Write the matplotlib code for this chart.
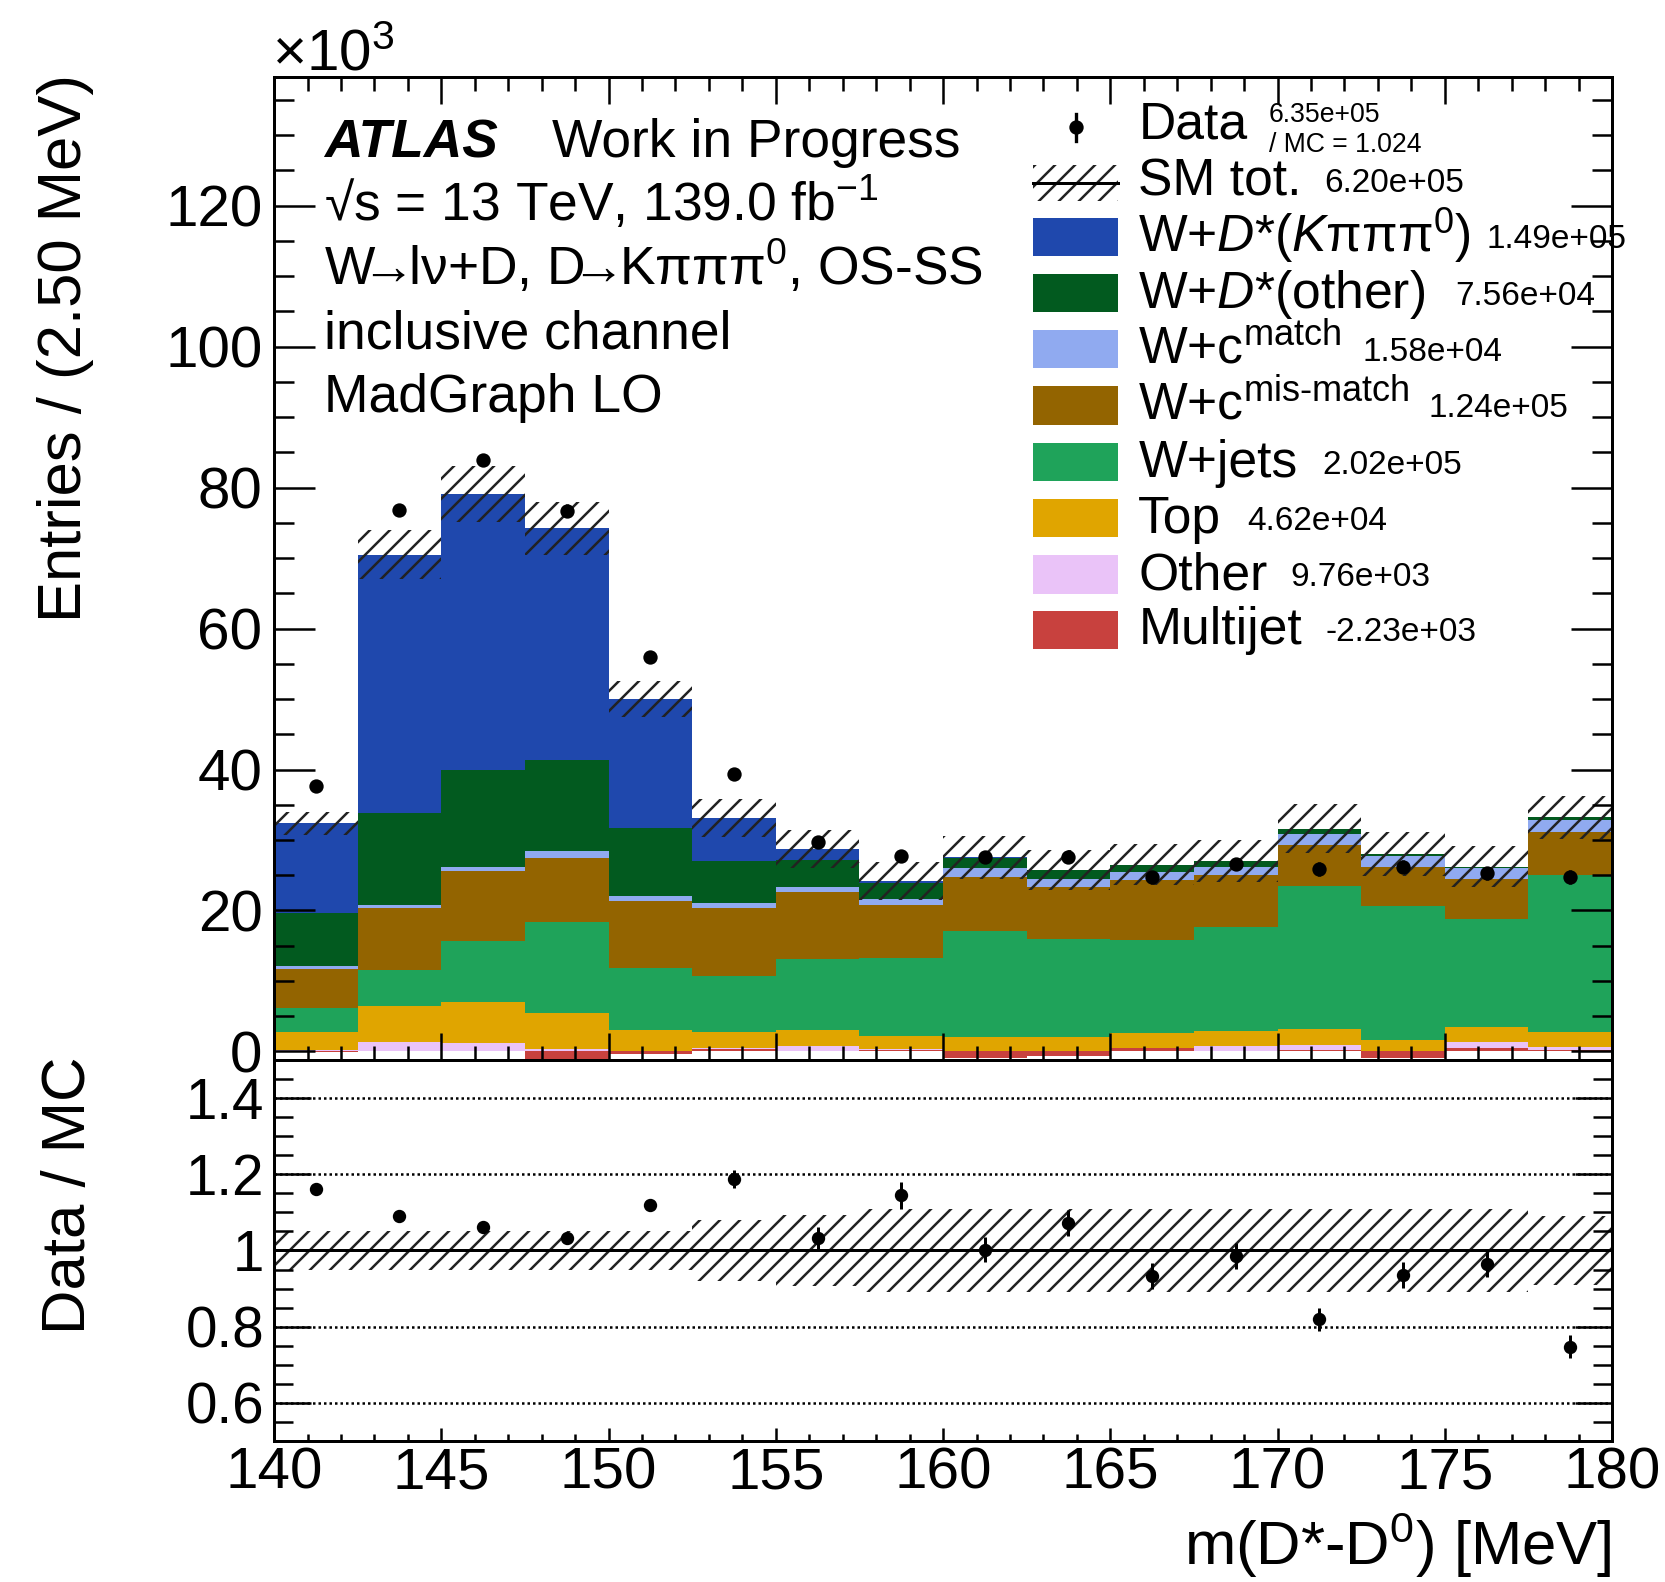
import numpy as np
import matplotlib
matplotlib.use("Agg")
import matplotlib.pyplot as plt
from matplotlib.patches import Rectangle
from matplotlib.lines import Line2D
from matplotlib.ticker import MultipleLocator, FuncFormatter

plt.rcParams['font.family'] = ['Liberation Sans', 'DejaVu Sans']
plt.rcParams['mathtext.fontset'] = 'custom'
plt.rcParams['mathtext.rm'] = 'Liberation Sans'
plt.rcParams['mathtext.it'] = 'Liberation Sans:italic'
plt.rcParams['mathtext.bf'] = 'Liberation Sans:bold'
plt.rcParams['hatch.linewidth'] = 1.5

# binning: m(D*-D0) in MeV, 2.5 MeV bins
edges = np.arange(140, 180.1, 2.5)
centers = 0.5 * (edges[1:] + edges[:-1])

# stacked backgrounds, entries / 10^3 (bottom to top)
multijet    = [-0.1, 0.0, 0.0, -1.0, -0.4, 0.35, 0.0, 0.25, -0.9, -0.6, 0.45, 0.1, 0.2, -0.9, 0.5, 0.25]
other       = [0.34, 1.4, 1.2, 1.4, 0.4, 0.1, 0.8, 0.05, 0.9, 0.6, 0.05, 0.7, 0.75, 0.9, 0.9, 0.45]
top         = [2.51, 5.1, 5.8, 5.0, 3.1, 2.35, 2.3, 1.9, 2.1, 2.0, 2.1, 2.1, 2.25, 1.6, 2.05, 2.05]
wjets       = [3.4, 5.1, 8.7, 13.0, 8.7, 7.9, 10.0, 11.0, 15.0, 13.9, 13.2, 14.7, 20.3, 19.1, 15.35, 22.25]
wc_mismatch = [5.55, 8.7, 9.9, 9.1, 9.6, 9.6, 9.55, 7.6, 7.7, 7.5, 8.5, 7.4, 5.8, 5.5, 5.65, 6.1]
wc_match    = [0.36, 0.5, 0.6, 0.9, 0.7, 0.8, 0.65, 0.9, 1.2, 1.1, 1.2, 1.2, 1.5, 1.5, 1.55, 1.8]
wdstar_oth  = [7.54, 13.1, 13.7, 13.0, 9.6, 5.9, 3.9, 2.2, 1.5, 1.2, 1.0, 0.8, 0.8, 0.3, 0.2, 0.3]
wdstar_k3pi = [12.8, 36.6, 39.2, 32.8, 18.3, 6.1, 1.55, 0.3, 0.05, 0.05, 0.0, 0.0, 0.0, 0.0, 0.0, 0.0]

# data and uncertainties (entries / 10^3)
data     = [37.65, 76.8, 83.9, 76.7, 56.0, 39.3, 29.7, 27.7, 27.6, 27.6, 24.7, 26.6, 25.9, 26.2, 25.3, 24.8]
data_err = [0.4, 0.7, 0.8, 0.9, 0.6, 0.75, 0.85, 0.85, 0.9, 0.9, 0.9, 0.9, 0.95, 0.93, 0.92, 1.0]
mc_unc   = [0.05, 0.05, 0.05, 0.05, 0.05, 0.08, 0.093, 0.11, 0.11, 0.11, 0.11, 0.11, 0.11, 0.11, 0.11, 0.09]

stack = [multijet, other, top, wjets, wc_mismatch, wc_match, wdstar_oth, wdstar_k3pi]
colors = ["#c8413e", "#eac3f8", "#e0a500", "#1fa35a", "#936400", "#90aaf0", "#025a1f", "#1f48ad"]
labels = [r"W+$\mathit{D}$*($\mathit{K}\mathrm{\pi\pi\pi}^{0}$)", r"W+$\mathit{D}$*(other)",
          r"W+c$^{\mathrm{match}}$", r"W+c$^{\mathrm{mis}\text{-}\mathrm{match}}$",
          "W+jets", "Top", "Other", "Multijet"]
yields = ["1.49e+05", "7.56e+04", "1.58e+04", "1.24e+05", "2.02e+05", "4.62e+04", "9.76e+03", "-2.23e+03"]

data = np.array(data)
data_err = np.array(data_err)
mc_unc = np.array(mc_unc)
cum = np.cumsum(np.array(stack), axis=0)
total = cum[-1]

fig = plt.figure(figsize=(1665 / 120, 1582 / 120), dpi=120)
ax = fig.add_axes([0.1646, 0.3300, 0.8036, 0.6216])
ax2 = fig.add_axes([0.1646, 0.0891, 0.8036, 0.2409])


def P(x, y):
    # position in the 1568x1490 view -> figure fraction
    return x / 1568, 1 - y / 1490


# ROOT-like stack: cumulative sums drawn from the top one down, each from 0
for vals, col in reversed(list(zip(cum, colors))):
    ax.stairs(vals, edges, baseline=0, fill=True, color=col, lw=0)

ax.stairs(total * (1 + mc_unc), edges, baseline=total * (1 - mc_unc), fill=True,
          facecolor="none", edgecolor="#222222", hatch="//", lw=0)
ax.errorbar(centers, data, yerr=data_err, fmt="o", color="k", ms=7.6, elinewidth=1.8, capsize=0)

ax.set_xlim(140, 180)
ax.set_ylim(-1.2, 138.3)
ax.xaxis.set_major_locator(MultipleLocator(5))
ax.xaxis.set_minor_locator(MultipleLocator(1))
ax.yaxis.set_major_locator(MultipleLocator(20))
ax.yaxis.set_minor_locator(MultipleLocator(5))
ax.yaxis.set_major_formatter(FuncFormatter(lambda v, p: "%g" % v))
ax.tick_params(which="both", direction="in", top=True, right=True, width=1.5, labelbottom=False)
ax.tick_params(axis="y", which="major", length=24.6, labelsize=35, pad=7)
ax.tick_params(axis="y", which="minor", length=12)
ax.tick_params(axis="x", which="major", length=16)
ax.tick_params(axis="x", which="minor", length=8.4)

# ratio panel
ratio = data / total
ratio_err = data_err / total
ax2.stairs(1 + mc_unc, edges, baseline=1 - mc_unc, fill=True,
           facecolor="none", edgecolor="#222222", hatch="//", lw=0)
for v in [0.6, 0.8, 1.2, 1.4]:
    ax2.axhline(v, color="k", ls=(0, (1, 1.2)), lw=1.5)
ax2.axhline(1, color="k", lw=1.8)
ax2.errorbar(centers, ratio, yerr=ratio_err, fmt="o", color="k", ms=7, elinewidth=1.8, capsize=0)

ax2.set_xlim(140, 180)
ax2.set_ylim(0.5, 1.5)
ax2.xaxis.set_major_locator(MultipleLocator(5))
ax2.xaxis.set_minor_locator(MultipleLocator(1))
ax2.yaxis.set_minor_locator(MultipleLocator(0.05))
ax2.set_yticks([0.6, 0.8, 1.0, 1.2, 1.4])
ax2.yaxis.set_major_formatter(FuncFormatter(lambda v, p: "%g" % round(v, 2)))
ax2.tick_params(which="both", direction="in", right=True, top=False, width=1.5)
ax2.tick_params(axis="y", which="major", length=22, labelsize=34, pad=6)
ax2.tick_params(axis="y", which="minor", length=11.4)
ax2.tick_params(axis="x", which="major", length=7.8, labelsize=35, pad=3)
ax2.tick_params(axis="x", which="minor", length=4.2)

for a in (ax, ax2):
    for s in a.spines.values():
        s.set_linewidth(1.8)

# axis titles
fig.text(*P(62, 70), "Entries / (2.50 MeV)", rotation=90, ha="center", va="top", fontsize=37)
fig.text(*P(65, 995), "Data / MC", rotation=90, ha="center", va="top", fontsize=37)
fig.text(*P(1518, 1455), r"m(D*-D$^{0}$) [MeV]", ha="right", va="center", fontsize=37)
fig.text(*P(256, 66), r"×10$^{3}$", ha="left", va="baseline", fontsize=35)

# header text
fig.text(*P(305, 148), "ATLAS", fontsize=32, fontweight="bold", fontstyle="italic", va="baseline")
fig.text(*P(520, 148), "Work in Progress", fontsize=32, va="baseline")
fig.text(*P(305, 208), r"√s = 13 TeV, 139.0 fb$^{-1}$", fontsize=32, va="baseline")
fig.text(*P(305, 268),
         r"W$\!\!\!{\rightarrow}\!\!$l$\mathrm{\nu}$+D, D$\!\!\!{\rightarrow}\!\!$K$\mathrm{\pi\pi\pi}^{0}$, OS-SS",
         fontsize=32, va="baseline")
fig.text(*P(305, 328), "inclusive channel", fontsize=32, va="baseline")
fig.text(*P(305, 388), "MadGraph LO", fontsize=32, va="baseline")

# legend
x0, y0 = P(1013, 120)
fig.add_artist(Line2D([x0], [y0], marker="o", ms=7.6, color="k", transform=fig.transFigure))
xa, ya = P(1013, 107)
xb, yb = P(1013, 133)
fig.add_artist(Line2D([xa, xb], [ya, yb], lw=2, color="k", transform=fig.transFigure))
fig.text(*P(1072, 130), "Data", fontsize=31, va="baseline")
fig.text(*P(1195, 108), "6.35e+05", fontsize=16, va="center")
fig.text(*P(1195, 137), "/ MC = 1.024", fontsize=16, va="center")

bx, by = P(973, 189)
bw, bh = 80 / 1568, 34 / 1490
fig.add_artist(Rectangle((bx, by), bw, bh, facecolor="none", edgecolor="#222222", hatch="//", lw=0,
                         transform=fig.transFigure))
la, lb = P(973, 172)
fig.add_artist(Line2D([la, la + bw], [lb, lb], lw=1.8, color="k", transform=fig.transFigure))
fig.text(*P(1072, 184), "SM tot.", fontsize=31, va="baseline")
fig.text(*P(1247, 173), "6.20e+05", fontsize=20, va="center")

box_y = [223, 276, 329, 382, 435, 488, 541, 593]
num_x = [1400, 1370, 1283, 1345, 1245, 1175, 1215, 1248]
for i, (lab, col, yl) in enumerate(zip(labels, colors[::-1], yields)):
    cy = box_y[i]
    rx, ry = P(973, cy + 18)
    fig.add_artist(Rectangle((rx, ry), bw, 36 / 1490, facecolor=col, lw=0, transform=fig.transFigure))
    fig.text(*P(1072, cy + 14), lab, fontsize=31, va="baseline")
    fig.text(*P(num_x[i], cy + 3), yl, fontsize=20, va="center")

fig.savefig("out.png", dpi=120)
